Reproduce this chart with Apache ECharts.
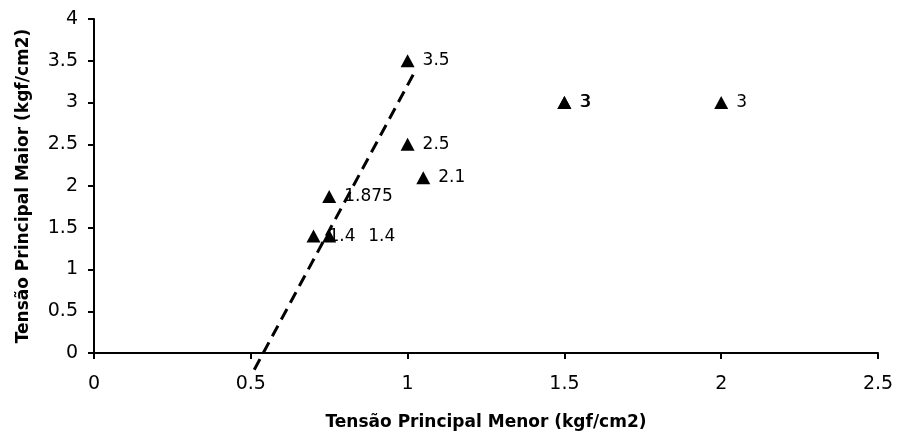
<!DOCTYPE html>
<html>
<head>
<meta charset="utf-8">
<script src="https://cdn.jsdelivr.net/npm/echarts@6/dist/echarts.min.js"></script>
<style>
  html, body { margin: 0; padding: 0; background: #fff; }
  #chart { width: 897px; height: 436px; }
</style>
</head>
<body>
<div id="chart"></div>
<script>
// Ensaio: tensões principais (kgf/cm2)
const menor = [1, 1, 1.05, 0.75, 0.7, 0.75, 1.5, 1.5, 2];
const maior = [3.5, 2.5, 2.1, 1.875, 1.4, 1.4, 3, 3, 3];
// deslocamento horizontal extra de cada rótulo (px)
const labelShift = [0, 0, 0, 0, 0, 24, 0, 1, 0];

// reta de ajuste (tracejada)
const retaX = [0.511, 1.026];
const retaY = [-0.2, 3.39];

const xTicks = { min: 0, max: 2.5, interval: 0.5 };
const yTicks = { min: 0, max: 4, interval: 0.5 };

const font = 'DejaVu Sans, Verdana, sans-serif';

const pontos = menor.map((x, i) => ({
  value: [x, maior[i]],
  label: { offset: [labelShift[i], 0] }
}));

const eixo = {
  axisLine: { show: true, lineStyle: { color: '#000', width: 2 } },
  axisTick: { show: true, inside: false, length: 6, lineStyle: { color: '#000', width: 2 } },
  splitLine: { show: false }
};

const chart = echarts.init(document.getElementById('chart'));
chart.setOption({
  animation: false,
  backgroundColor: '#ffffff',
  grid: { left: 94, right: 19, top: 19, bottom: 83 },
  xAxis: Object.assign({
    type: 'value',
    min: xTicks.min, max: xTicks.max, interval: xTicks.interval,
    name: 'Tensão Principal Menor (kgf/cm2)',
    nameLocation: 'middle',
    nameGap: 61,
    nameTextStyle: { fontFamily: font, fontSize: 17, fontWeight: 'bold', color: '#000' },
    axisLabel: { fontFamily: font, fontSize: 19, color: '#000', margin: 22,
      formatter: v => String(v) }
  }, eixo),
  yAxis: Object.assign({
    type: 'value',
    min: yTicks.min, max: yTicks.max, interval: yTicks.interval,
    name: 'Tensão Principal Maior (kgf/cm2)',
    nameLocation: 'middle',
    nameGap: 62,
    nameTextStyle: { fontFamily: font, fontSize: 17, fontWeight: 'bold', color: '#000' },
    axisLabel: { fontFamily: font, fontSize: 19, color: '#000', margin: 16,
      formatter: v => String(v) }
  }, eixo),
  series: [
    {
      type: 'line',
      data: retaX.map((x, i) => [x, retaY[i]]),
      symbol: 'none',
      clip: false,
      lineStyle: { color: '#000', width: 3, type: [12, 7] },
      z: 3
    },
    {
      type: 'scatter',
      data: pontos,
      symbol: 'triangle',
      symbolSize: [14, 13],
      itemStyle: { color: '#000', opacity: 1 },
      label: {
        show: true,
        position: 'right',
        distance: 8,
        fontFamily: font,
        fontSize: 17,
        color: '#000',
        formatter: p => String(p.value[1])
      },
      z: 2
    }
  ]
});
</script>
</body>
</html>
